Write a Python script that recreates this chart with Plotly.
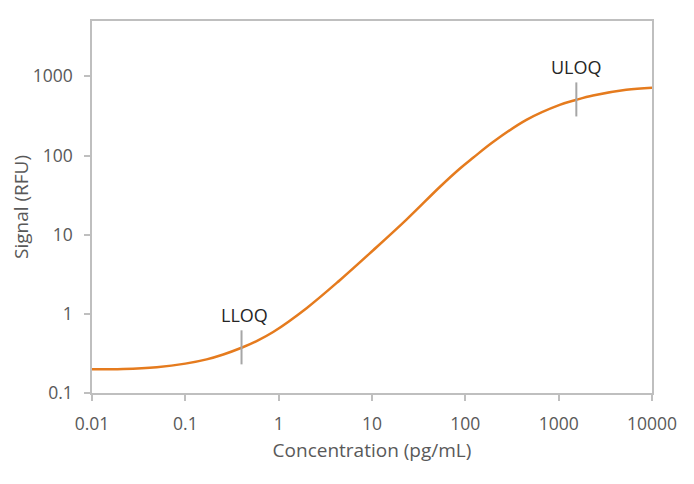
import numpy as np
import plotly.graph_objects as go

# Standard curve (concentration pg/mL vs signal RFU)
conc = [0.01, 0.0216, 0.0493, 0.1, 0.169, 0.255, 0.40, 0.58, 0.873, 1.99, 4.52, 10.3,
        23.4, 53.2, 87, 121, 198, 451, 1025, 1546, 2330, 5300, 10000]
signal = [0.199, 0.201, 0.212, 0.235, 0.266, 0.307, 0.373, 0.453, 0.59, 1.18, 2.66, 6.36,
          15.5, 40, 68, 93.5, 148, 282, 436, 505, 572, 676, 716]

# limits of quantification
loq_names = ['LLOQ', 'ULOQ']
loq_conc = [0.40, 1546]
loq_signal = [0.373, 505]

x_ticks = [0.01, 0.1, 1, 10, 100, 1000, 10000]
x_labels = ['0.01', '0.1', '1', '10', '100', '1000', '10000']
y_ticks = [0.1, 1, 10, 100, 1000]
y_labels = ['0.1', '1', '10', '100', '1000']

orange = '#E57B1E'
grey_line = '#BFBFBF'
text_grey = '#595959'
font_family = 'Open Sans'

fig = go.Figure()

fig.add_trace(go.Scatter(x=conc, y=signal,
                         mode='lines',
                         line=dict(color=orange, width=2.5, shape='spline', smoothing=1.0),
                         showlegend=False, hoverinfo='skip'))

# small vertical markers on the curve at LLOQ / ULOQ (about +-0.21 decades)
for name, cx, cy in zip(loq_names, loq_conc, loq_signal):
    fig.add_trace(go.Scatter(x=[cx, cx], y=[cy / 10 ** 0.21, cy * 10 ** 0.22],
                             mode='lines',
                             line=dict(color='#A6A6A6', width=2),
                             showlegend=False, hoverinfo='skip'))
    fig.add_annotation(x=np.log10(cx), y=np.log10(cy * 10 ** 0.22),
                       text=name, showarrow=False,
                       yanchor='bottom', yshift=1, xshift=3 if name == 'LLOQ' else 0,
                       font=dict(family=font_family, size=18, color='#262626'))

fig.update_xaxes(type='log', range=[-2, 4], automargin=False,
                 tickvals=x_ticks, ticktext=x_labels,
                 showgrid=False, zeroline=False,
                 showline=True, linecolor=grey_line, linewidth=1.5, mirror=True,
                 ticks='outside', ticklen=6, tickcolor=grey_line, tickwidth=1.5,
                 ticklabelstandoff=8,
                 tickfont=dict(family=font_family, size=17.5, color=text_grey),
                 title=dict(text='Concentration (pg/mL)', standoff=10,
                            font=dict(family=font_family, size=19, color=text_grey)))

fig.update_yaxes(type='log', range=[-1, np.log10(5000)], automargin=False,
                 tickvals=y_ticks, ticktext=y_labels,
                 showgrid=False, zeroline=False,
                 showline=True, linecolor=grey_line, linewidth=1.5, mirror=True,
                 ticks='outside', ticklen=6, tickcolor=grey_line, tickwidth=1.5,
                 ticklabelstandoff=8,
                 tickfont=dict(family=font_family, size=17.5, color=text_grey),
                 title=dict(text='Signal (RFU)', standoff=7,
                            font=dict(family=font_family, size=19, color=text_grey)))

# page body has an 8px margin, so size the figure to fit the window
fig.update_layout(width=686, height=476,
                  margin=dict(l=84, r=42, t=13, b=91),
                  paper_bgcolor='white', plot_bgcolor='white')

fig.write_html("out.html")
